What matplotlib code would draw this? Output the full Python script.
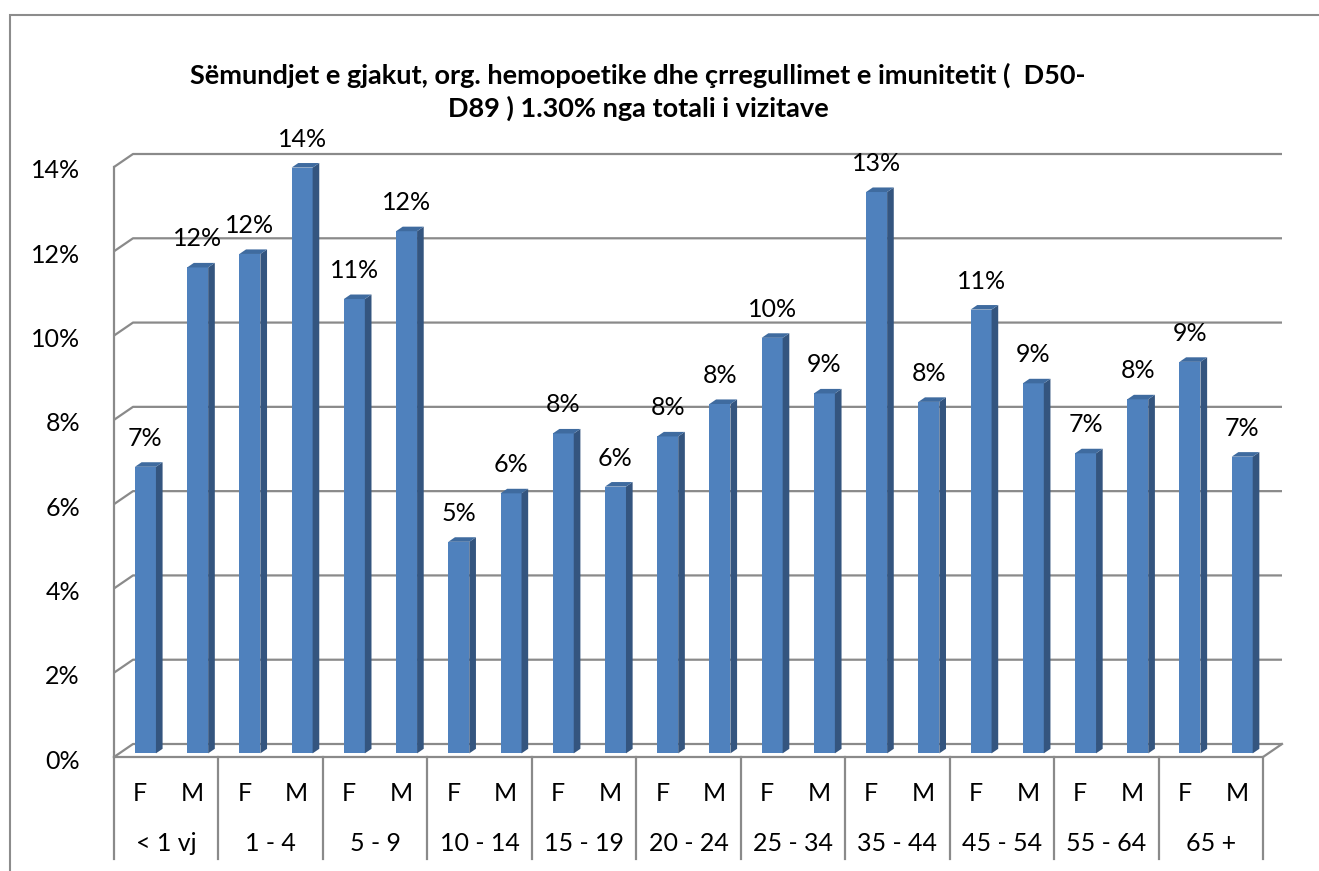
import matplotlib
matplotlib.use("Agg")
import matplotlib.pyplot as plt
from matplotlib.patches import Polygon, Rectangle

# ---------------- data ----------------
age_groups = ["< 1 vj", "1 - 4", "5 - 9", "10 - 14", "15 - 19", "20 - 24",
              "25 - 34", "35 - 44", "45 - 54", "55 - 64", "65 +"]
sexes = ["F", "M"]
female = [6.80, 11.85, 10.78, 5.02, 7.59, 7.52, 9.86, 13.32, 10.53, 7.12, 9.29]
male = [11.53, 13.90, 12.39, 6.17, 6.33, 8.29, 8.54, 8.34, 8.78, 8.40, 7.04]
y_ticks = [0, 2, 4, 6, 8, 10, 12, 14]
title = ("Sëmundjet e gjakut, org. hemopoetike dhe çrregullimet e imunitetit (  D50-\n"
         "D89 ) 1.30% nga totali i vizitave")

# ---------------- style ----------------
FONT = "Lato"
plt.rcParams["font.family"] = [FONT, "DejaVu Sans"]
FRONT = "#4F81BD"
SIDE = "#34557F"
TOP = "#3F6B9F"
GRID = "#8A8A8A"
FS = 18

W, H = 1319, 871
fig = plt.figure(figsize=(W / 100, H / 100), dpi=100)
fig.patch.set_facecolor("white")

# front plane of the plot (pixels)
L, R, B0, T14 = 114, 1263, 757, 167
ax = fig.add_axes([L / W, 1 - B0 / H, (R - L) / W, (B0 - T14) / H])
n = len(age_groups)
ax.set_xlim(-0.5, n - 0.5)
ax.set_ylim(0, 14)
ax.axis("off")

pxx = (R - L) / n          # px per category
pxy = (B0 - T14) / 14.0    # px per percent
DX, DY = 19 / pxx, 13 / pxy     # full depth offset
f0, bd = 0.28, 0.35            # bar front depth fraction, bar depth fraction
bw = 21 / pxx

# chart border (cropped at right/bottom)
fig.patches.append(Rectangle((10 / W, -0.2), 1.5, 1 - 15 / H + 0.2,
                             transform=fig.transFigure, fill=False,
                             ec="#8C8C8C", lw=1.5))

xl, xr = -0.5, n - 0.5
# gridlines on side + back wall
for v in y_ticks:
    ax.plot([xl, xl + DX, xr + DX], [v, v + DY, v + DY], color=GRID, lw=1.6,
            clip_on=False, zorder=1, solid_capstyle="butt")
# left wall front edge and floor
ax.plot([xl, xl], [0, 14], color=GRID, lw=1.6, clip_on=False, zorder=1)
ax.plot([xl, xr, xr + DX], [0, 0, DY], color=GRID, lw=1.6, clip_on=False, zorder=1)

# bars
for k, (vals, off) in enumerate([(female, -0.25), (male, 0.25)]):
    xs = [i + off + f0 * DX for i in range(n)]
    b = f0 * DY
    ax.bar(xs, vals, width=bw, bottom=b, color=FRONT, zorder=3, clip_on=False)
    for x, v in zip(xs, vals):
        x0, x1 = x - bw / 2, x + bw / 2
        ddx, ddy = bd * DX, bd * DY
        ax.add_patch(Polygon([(x1, b), (x1 + ddx, b + ddy), (x1 + ddx, b + v + ddy), (x1, b + v)],
                             closed=True, fc=SIDE, ec="none", zorder=3, clip_on=False))
        ax.add_patch(Polygon([(x0, b + v), (x1, b + v), (x1 + ddx, b + v + ddy), (x0 + ddx, b + v + ddy)],
                             closed=True, fc=TOP, ec="none", zorder=3, clip_on=False))
        ax.text(x, b + v + 28.5 / pxy, f"{round(v)}%", ha="center", va="center",
                fontsize=FS, color="black", clip_on=False, zorder=4)

# y tick labels
for v in y_ticks:
    ax.text(xl - 34 / pxx, v - 4 / pxy, f"{v}%", ha="right", va="center",
            fontsize=FS, color="black", clip_on=False)

# category axis (two-level)
for k in range(n + 1):
    ax.plot([xl + k, xl + k], [0, -(859 - B0) / pxy], color=GRID, lw=1.6,
            clip_on=False, zorder=1)
for i, g in enumerate(age_groups):
    for s, off in zip(sexes, (-0.25, 0.25)):
        ax.text(i + off, -(793 - B0) / pxy, s, ha="center", va="center",
                fontsize=FS, clip_on=False)
    ax.text(i, -(843 - B0) / pxy, g, ha="center", va="center", fontsize=FS,
            clip_on=False)

line1, line2 = title.split("\n")
fig.text(638 / W, 1 - 75 / H, line1, ha="center", va="center", fontsize=19.5,
         fontweight="bold")
fig.text(638 / W, 1 - 108 / H, line2, ha="center", va="center", fontsize=19.5,
         fontweight="bold")

fig.savefig("out.png", dpi=100, facecolor="white")
